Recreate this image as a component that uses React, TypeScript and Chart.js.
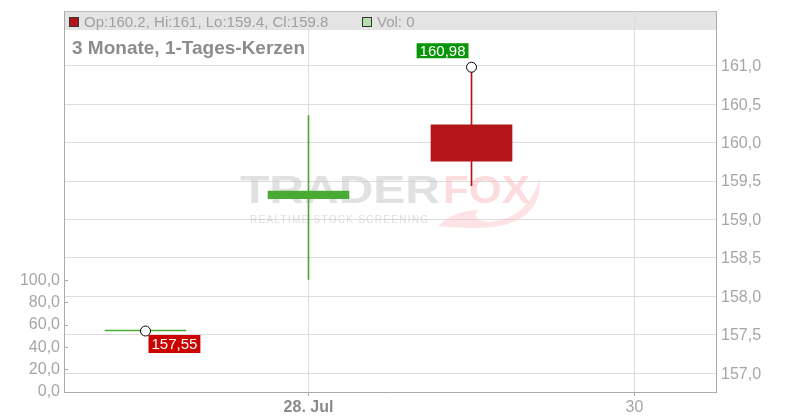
import React, { useEffect, useRef } from 'react';
import { Chart, registerables } from 'chart.js';

Chart.register(...registerables);

// ---- data ----
const days = [27, 28, 29];
const opens = [157.55, 159.27, 160.23];
const highs = [157.55, 160.35, 160.98];
const lows = [157.55, 158.22, 159.44];
const closes = [157.55, 159.37, 159.76];
const volumes = [0, 0, 0];
const candleColors = ['#4aab34', '#4aab34', '#b31518'];

const priceTicks = [157, 157.5, 158, 158.5, 159, 159.5, 160, 160.5, 161];
const volumeTicks = [0, 20, 40, 60, 80, 100];
const xTicks = [28, 30];
const xTickLabels = ['28. Jul', '30'];
const xTickBold = [true, false];

const markerDays = [29, 27];
const markerValues = [160.98, 157.55];
const markerColors = ['#089508', '#cc0000'];
const markerAbove = [true, false];

const legendText = 'Op:160.2, Hi:161, Lo:159.4, Cl:159.8';
const volLegendText = 'Vol: 0';
const titleText = '3 Monate, 1-Tages-Kerzen';

const FONT = '"Liberation Sans", Arial, Helvetica, sans-serif';
const fmt = (v: number, d: number) => v.toFixed(d).replace('.', ',');

const decorPlugin = {
  id: 'decor',
  beforeDraw(chart: any) {
    const { ctx, chartArea } = chart;
    ctx.save();
    ctx.fillStyle = '#e4e4e4';
    ctx.fillRect(chartArea.left, chartArea.top, chartArea.right - chartArea.left, 19);
    ctx.strokeStyle = '#bdbdbd';
    ctx.lineWidth = 1;
    ctx.beginPath();
    ctx.moveTo(chartArea.left, chartArea.top + 0.5);
    ctx.lineTo(chartArea.right, chartArea.top + 0.5);
    ctx.stroke();
    ctx.restore();
  },
  beforeDatasetsDraw(chart: any) {
    const { ctx } = chart;
    ctx.save();
    ctx.textBaseline = 'alphabetic';
    ctx.textAlign = 'left';
    // TRADER
    ctx.font = `bold 39px ${FONT}`;
    let w = ctx.measureText('TRADER').width;
    ctx.save();
    ctx.translate(240, 203);
    ctx.scale(200 / w, 1);
    ctx.fillStyle = 'rgba(200,200,200,0.55)';
    ctx.fillText('TRADER', 0, 0);
    ctx.restore();
    // FOX
    w = ctx.measureText('FOX').width;
    ctx.save();
    ctx.translate(443, 203);
    ctx.scale(87 / w, 1);
    ctx.fillStyle = 'rgba(250,185,192,0.5)';
    ctx.fillText('FOX', 0, 0);
    ctx.restore();
    // fox tail swoosh
    ctx.fillStyle = 'rgba(250,185,192,0.4)';
    ctx.beginPath();
    ctx.moveTo(438, 226);
    ctx.quadraticCurveTo(455, 210, 478, 210);
    ctx.quadraticCurveTo(470, 220, 490, 222);
    ctx.quadraticCurveTo(528, 218, 540, 178);
    ctx.quadraticCurveTo(542, 226, 480, 228);
    ctx.quadraticCurveTo(455, 228, 438, 226);
    ctx.fill();
    // tagline
    ctx.font = `10px ${FONT}`;
    const tag = 'REALTIME STOCK SCREENING';
    const natural = ctx.measureText(tag).width;
    const spacing = (178 - natural) / (tag.length - 1);
    (ctx as any).letterSpacing = `${spacing.toFixed(2)}px`;
    ctx.fillStyle = 'rgba(195,195,195,0.55)';
    ctx.fillText(tag, 250, 223);
    (ctx as any).letterSpacing = '0px';
    ctx.restore();
  },
  afterDatasetsDraw(chart: any) {
    const { ctx, scales } = chart;
    ctx.save();
    ctx.font = `15px ${FONT}`;
    ctx.textBaseline = 'middle';
    ctx.textAlign = 'center';
    markerDays.forEach((d, i) => {
      const px = scales.x.getPixelForValue(d);
      const py = scales.y.getPixelForValue(markerValues[i]);
      const label = fmt(markerValues[i], 2);
      const tw = ctx.measureText(label).width;
      const bw = tw + 6;
      let bx: number, by: number, bh: number;
      if (markerAbove[i]) {
        bh = 15;
        bx = px - 3 - bw;
        by = py - 9 - bh;
      } else {
        bh = 18;
        bx = px + 3;
        by = py + 4;
      }
      ctx.fillStyle = markerColors[i];
      ctx.fillRect(bx, by, bw, bh);
      ctx.fillStyle = '#ffffff';
      ctx.fillText(label, bx + bw / 2, by + bh / 2 + 1);
    });
    ctx.restore();
  },
  afterDraw(chart: any) {
    const { ctx, chartArea } = chart;
    ctx.save();
    // legend
    ctx.fillStyle = '#b31518';
    ctx.strokeStyle = '#333';
    ctx.lineWidth = 1;
    ctx.fillRect(69, 17, 10, 10);
    ctx.strokeRect(69.5, 17.5, 9, 9);
    ctx.fillStyle = '#b5e0ad';
    ctx.fillRect(362, 17, 10, 10);
    ctx.strokeRect(362.5, 17.5, 9, 9);
    ctx.font = `15px ${FONT}`;
    ctx.textBaseline = 'alphabetic';
    ctx.textAlign = 'left';
    ctx.fillStyle = '#a0a0a0';
    ctx.fillText(legendText, 84, 27);
    ctx.fillText(volLegendText, 377, 27);
    // title
    ctx.font = `bold 19px ${FONT}`;
    ctx.fillStyle = '#8c8c8c';
    ctx.fillText(titleText, chartArea.left + 8, 54);
    ctx.restore();
  },
};

const noPad = (s: any) => {
  s.paddingTop = 0;
  s.paddingBottom = 0;
  s.paddingLeft = 0;
  s.paddingRight = 0;
};

export default function App() {
  const ref = useRef<HTMLCanvasElement | null>(null);
  useEffect(() => {
    document.body.style.margin = '0';
    const canvas = ref.current;
    if (!canvas) return;
    const chart = new Chart(canvas, {
      type: 'bar',
      data: {
        datasets: [
          {
            type: 'bar',
            label: 'Vol',
            data: days.map((d, i) => ({ x: d, y: volumes[i] })),
            yAxisID: 'yVol',
            backgroundColor: 'rgba(0,0,0,0)',
            borderWidth: 0,
            barThickness: 81,
            grouped: false,
            order: 5,
          } as any,
          {
            type: 'bar',
            label: 'wick',
            data: days.map((d, i) => ({ x: d, y: [lows[i], highs[i]] })),
            yAxisID: 'y',
            backgroundColor: candleColors,
            barThickness: 1,
            grouped: false,
            order: 3,
          } as any,
          {
            type: 'bar',
            label: 'body',
            data: days.map((d, i) => ({ x: d, y: [opens[i], closes[i]] })),
            yAxisID: 'y',
            backgroundColor: candleColors,
            barThickness: 81,
            minBarLength: 1,
            grouped: false,
            order: 2,
          } as any,
          {
            type: 'line',
            label: 'markers',
            data: markerDays.map((d, i) => ({ x: d, y: markerValues[i] })),
            yAxisID: 'y',
            showLine: false,
            pointRadius: 5,
            pointBackgroundColor: '#ffffff',
            pointBorderColor: '#000000',
            pointBorderWidth: 1,
            order: 1,
          } as any,
        ],
      },
      options: {
        responsive: false,
        animation: false,
        events: [],
        layout: { padding: { top: 11, left: 0, right: 0, bottom: 0 } },
        plugins: { legend: { display: false }, tooltip: { enabled: false } },
        scales: {
          x: {
            type: 'linear',
            min: 26.5,
            max: 30.5,
            offset: false,
            afterBuildTicks: (s: any) => {
              s.ticks = xTicks.map((v) => ({ value: v }));
            },
            afterFit: (s: any) => {
              s.height = 28;
              noPad(s);
            },
            grid: {
              offset: false,
              color: '#dddddd',
              drawTicks: true,
              tickLength: 4,
              tickColor: '#aaaaaa',
            },
            border: { color: '#aaaaaa' },
            ticks: {
              padding: 2,
              maxRotation: 0,
              autoSkip: false,
              callback: (v: any) => {
                const i = xTicks.indexOf(Number(v));
                return i >= 0 ? xTickLabels[i] : '';
              },
              font: (c: any) => {
                const i = c.tick ? xTicks.indexOf(c.tick.value) : -1;
                return { family: FONT, size: 16, weight: i >= 0 && xTickBold[i] ? 'bold' : 'normal' };
              },
              color: (c: any) => {
                const i = c.tick ? xTicks.indexOf(c.tick.value) : -1;
                return i >= 0 && xTickBold[i] ? '#8a8a8a' : '#a6a6a6';
              },
            },
          },
          y: {
            type: 'linear',
            position: 'right',
            min: 156.757,
            max: 161.711,
            afterBuildTicks: (s: any) => {
              s.ticks = priceTicks.map((v) => ({ value: v }));
            },
            afterFit: (s: any) => {
              s.width = 84;
              noPad(s);
            },
            grid: { color: '#dddddd', drawTicks: false },
            border: { color: '#aaaaaa' },
            ticks: {
              padding: 5,
              labelOffset: 1,
              color: '#a6a6a6',
              font: { family: FONT, size: 16 },
              callback: (v: any) => fmt(Number(v), 1),
            },
          },
          yVol: {
            type: 'linear',
            position: 'left',
            min: 0,
            max: 341.4,
            afterBuildTicks: (s: any) => {
              s.ticks = volumeTicks.map((v) => ({ value: v }));
            },
            afterFit: (s: any) => {
              s.width = 64;
              noPad(s);
            },
            grid: {
              drawOnChartArea: false,
              drawTicks: true,
              tickLength: -4,
              tickColor: '#aaaaaa',
            },
            border: { color: '#aaaaaa' },
            ticks: {
              padding: 8,
              color: '#a6a6a6',
              font: { family: FONT, size: 16 },
              callback: (v: any) => fmt(Number(v), 1),
            },
          },
        },
      } as any,
      plugins: [decorPlugin],
    });
    return () => chart.destroy();
  }, []);
  return <canvas ref={ref} width={800} height={420} style={{ display: 'block' }} />;
}
